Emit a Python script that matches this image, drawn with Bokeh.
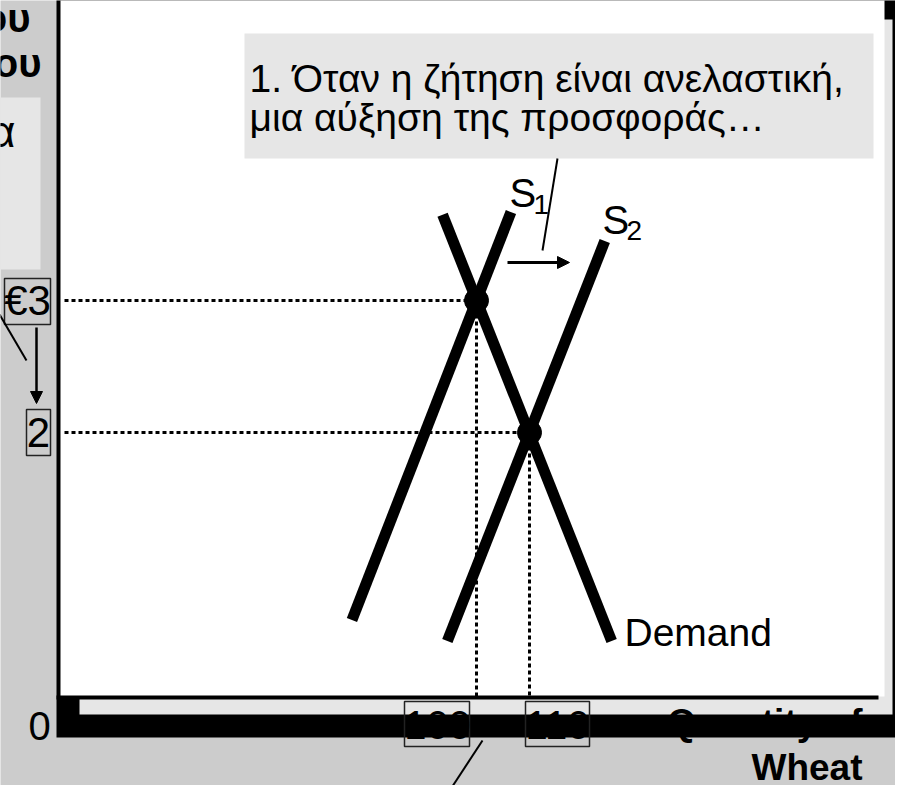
from bokeh.plotting import figure
from bokeh.models import Range1d, Arrow, NormalHead
from bokeh.core.properties import value
from bokeh.embed import file_html
from bokeh.resources import INLINE

# ---------------- data ----------------
eq_quantity = [100, 110]
eq_price = [3, 2]

s1_quantity = [76.5, 106.5]
s1_price = [0.58, 3.67]
s2_quantity = [94.5, 124.2]
s2_price = [0.42, 3.45]
demand_quantity = [93.6, 125.5]
demand_price = [3.65, 0.42]

price_ticks = [3, 2]
price_labels = ["€3", "2"]
quantity_ticks = [100, 110]
quantity_labels = ["100", "110"]

annotation_lines = ["1. Όταν η ζήτηση είναι ανελαστική,",
                    "μια αύξηση της προσφοράς…"]
x_title = ["Quantity of", "Wheat"]

# ---------------- layout helpers (reference pixels -> data) ----------------
def qx(px):
    return 100 + (px - 484) / 5.3

def py(pv):
    return (704 - pv) / 132

FONT = value("Liberation Sans")
GREY = "#cccccc"
LIGHT = "#e6e6e6"

p = figure(width=895, height=785,
           x_range=Range1d(qx(8), qx(903)), y_range=Range1d(py(793), py(8)),
           output_backend="svg", toolbar_location=None, min_border=0,
           x_axis_type=None, y_axis_type=None)
p.grid.visible = False
p.background_fill_color = GREY
p.border_fill_color = GREY
p.outline_line_color = None

# frame / shadow
p.quad(left=[qx(64)], right=[qx(920)], top=[py(4)], bottom=[py(745)],
       fill_color="black", line_color=None)
p.quad(left=[qx(87)], right=[qx(900)], top=[py(27)], bottom=[py(722)],
       fill_color=LIGHT, line_color=None)
p.quad(left=[qx(68)], right=[qx(892)], top=[py(6)], bottom=[py(704)],
       fill_color="white", line_color=None)
p.quad(left=[qx(64)], right=[qx(886)], top=[py(703)], bottom=[py(707)],
       fill_color="black", line_color=None)

# cropped left annotation box
p.quad(left=[qx(-20)], right=[qx(48)], top=[py(105)], bottom=[py(277)],
       fill_color=LIGHT, line_color=None)
# annotation box
p.quad(left=[qx(252)], right=[qx(881)], top=[py(41)], bottom=[py(166)],
       fill_color=LIGHT, line_color=None)

# dotted guide lines
x0 = qx(72)
p.segment(x0=[x0, x0], y0=eq_price, x1=eq_quantity, y1=eq_price,
          line_color="black", line_width=3, line_dash="4 3")
p.segment(x0=eq_quantity, y0=eq_price, x1=eq_quantity, y1=[0, 0],
          line_color="black", line_width=3, line_dash="4 3")

# curves
for qs, ps in [(s1_quantity, s1_price), (s2_quantity, s2_price),
               (demand_quantity, demand_price)]:
    p.line(qs, ps, line_color="black", line_width=11, line_cap="butt")

p.scatter(eq_quantity, eq_price, size=24, color="black")

# curve labels
p.text(x=[qx(517), qx(610)], y=[py(200), py(227)], text=["S", "S"],
       text_font=FONT, text_font_size="40px", text_baseline="middle",
       text_align="left", text_color="black")
p.text(x=[qx(541), qx(634)], y=[py(212), py(238)], text=["1", "2"],
       text_font=FONT, text_font_size="28px", text_baseline="middle",
       text_align="left", text_color="black")
p.text(x=[qx(632)], y=[py(640)], text=["Demand"],
       text_font=FONT, text_font_size="39px", text_baseline="middle",
       text_align="left", text_color="black")

# annotation text
p.text(x=[qx(257), qx(257)], y=[py(86), py(125)], text=annotation_lines,
       text_font=FONT, text_font_size="39px", text_baseline="middle",
       text_align="left", text_color="black")
p.segment(x0=[qx(565)], y0=[py(166)], x1=[qx(550)], y1=[py(258)],
          line_color="black", line_width=2)
p.add_layout(Arrow(end=NormalHead(size=12, fill_color="black", line_color="black"),
                   x_start=qx(515), y_start=py(270), x_end=qx(577), y_end=py(270),
                   line_color="black", line_width=3))

# price tick labels (boxed)
p.quad(left=[qx(12), qx(34)], right=[qx(58), qx(58)],
       top=[py(286), py(417)], bottom=[py(332), py(463)],
       fill_color=None, line_color="#222222", line_width=1.5)
p.text(x=[qx(35), qx(46)], y=price_ticks, text=price_labels,
       text_font=FONT, text_font_size="42px", text_baseline="middle",
       text_align="center", text_color="black")
p.add_layout(Arrow(end=NormalHead(size=12, fill_color="black", line_color="black"),
                   x_start=qx(44), y_start=py(335), x_end=qx(44), y_end=py(411),
                   line_color="black", line_width=2.5))
p.segment(x0=[qx(-10)], y0=[py(293)], x1=[qx(34)], y1=[py(368)],
          line_color="black", line_width=2)

# quantity tick labels (boxed)
p.quad(left=[qx(412), qx(533)], right=[qx(477), qx(597)],
       top=[py(709), py(709)], bottom=[py(754), py(754)],
       fill_color=None, line_color="#222222", line_width=1.5)
p.text(x=[qx(445), qx(565)], y=[py(732), py(732)], text=quantity_labels,
       text_font=FONT, text_font_size="40px", text_baseline="middle",
       text_align="center", text_color="black")
p.text(x=[qx(47)], y=[py(733)], text=["0"],
       text_font=FONT, text_font_size="40px", text_baseline="middle",
       text_align="center", text_color="black")
p.segment(x0=[qx(490)], y0=[py(748)], x1=[qx(452)], y1=[py(806)],
          line_color="black", line_width=2)

# axis title
p.text(x=[qx(870), qx(870)], y=[py(730), py(775)], text=x_title,
       text_font=FONT, text_font_size="37px", text_font_style="bold",
       text_baseline="middle", text_align="right", text_color="black")

# cropped left texts
p.text(x=[qx(38), qx(49)], y=[py(25), py(70)], text=["ου", "του"],
       text_font=FONT, text_font_size="40px", text_font_style="bold",
       text_baseline="middle", text_align="right", text_color="black")
p.text(x=[qx(23)], y=[py(139)], text=["α"],
       text_font=FONT, text_font_size="44px",
       text_baseline="middle", text_align="right", text_color="black")

open("out.html", "w").write(file_html(p, INLINE))
